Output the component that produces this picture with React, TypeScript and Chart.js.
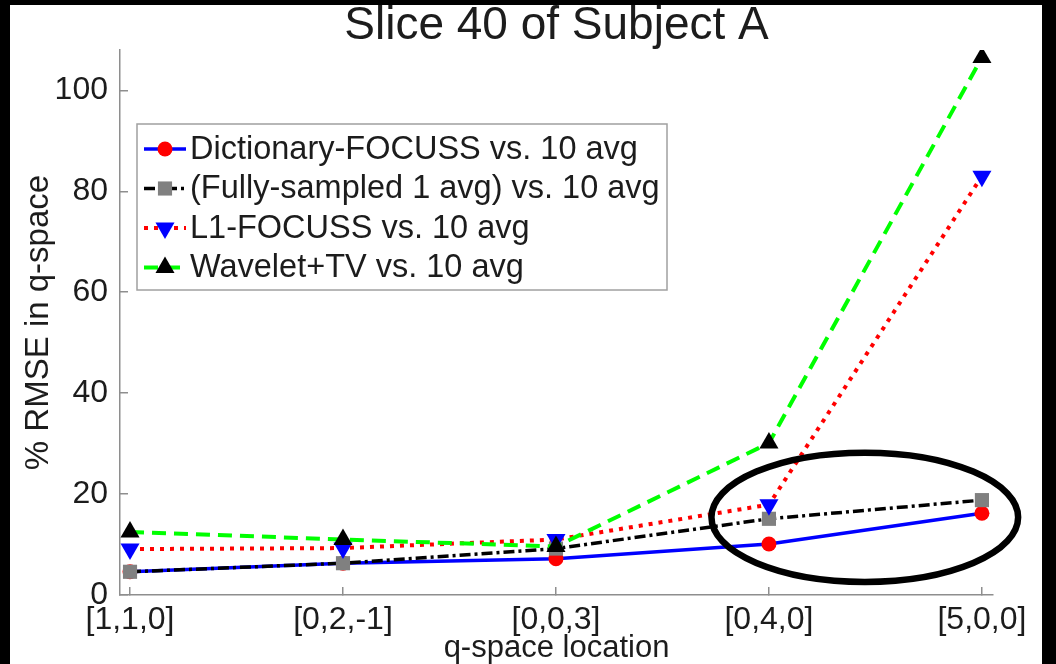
import React, { useEffect, useRef } from "react";
import { Chart, registerables } from "chart.js";

Chart.register(...registerables);

// ---- data ----
const categories = ["[1,1,0]", "[0,2,-1]", "[0,0,3]", "[0,4,0]", "[5,0,0]"];
const dictFocuss = [4.6, 6.3, 7.2, 10.1, 16.2];
const fullySampled = [4.6, 6.3, 9.2, 15.1, 18.8];
const l1Focuss = [9.1, 9.3, 11.0, 17.9, 83.0];
const waveletTV = [12.5, 11.0, 9.6, 30.1, 106.5];
const seriesLabels = [
  "Dictionary-FOCUSS vs. 10 avg",
  "(Fully-sampled 1 avg) vs. 10 avg",
  "L1-FOCUSS vs. 10 avg",
  "Wavelet+TV vs. 10 avg",
];
const yTicks = [0, 20, 40, 60, 80, 100];
const titleText = "Slice 40 of Subject A";
const xTitle = "q-space location";
const yTitle = "% RMSE in q-space";
// highlight ellipse, in data units (x = category position, y = value)
const ellipseCenter = [4.45, 15.4];
const ellipseRadii = [0.72, 12.8];

const FONT = '"Liberation Sans", Arial, Helvetica, sans-serif';
const TEXT = "#1c1c1c";
const AXIS = "#8e8e8e";

const toPts = (arr: number[]) => arr.map((v, i) => ({ x: i + 1, y: v }));

function drawMarker(ctx: CanvasRenderingContext2D, style: string, rot: number, r: number, x: number, y: number) {
  ctx.beginPath();
  if (style === "circle") {
    ctx.arc(x, y, r, 0, Math.PI * 2);
  } else if (style === "rect") {
    const s = r * Math.SQRT1_2;
    ctx.rect(x - s, y - s, 2 * s, 2 * s);
  } else if (style === "triangle") {
    let a = (rot * Math.PI) / 180;
    ctx.moveTo(x + Math.sin(a) * r, y - Math.cos(a) * r);
    a += (2 * Math.PI) / 3;
    ctx.lineTo(x + Math.sin(a) * r, y - Math.cos(a) * r);
    a += (2 * Math.PI) / 3;
    ctx.lineTo(x + Math.sin(a) * r, y - Math.cos(a) * r);
    ctx.closePath();
  }
  ctx.fill();
}

const ellipsePlugin = {
  id: "ellipseNote",
  afterDatasetsDraw(chart: any) {
    const { ctx, scales } = chart;
    const cx = scales.x.getPixelForValue(ellipseCenter[0]);
    const cy = scales.y.getPixelForValue(ellipseCenter[1]);
    const rx = Math.abs(scales.x.getPixelForValue(ellipseCenter[0] + ellipseRadii[0]) - cx);
    const ry = Math.abs(scales.y.getPixelForValue(ellipseCenter[1] + ellipseRadii[1]) - cy);
    ctx.save();
    ctx.strokeStyle = "#000";
    ctx.lineWidth = 6.5;
    ctx.beginPath();
    ctx.ellipse(cx, cy, rx, ry, 0, 0, Math.PI * 2);
    ctx.stroke();
    ctx.restore();
  },
};

const boxLegendPlugin = {
  id: "boxLegend",
  afterDraw(chart: any, _args: any, o: any) {
    const { ctx } = chart;
    ctx.save();
    ctx.fillStyle = "#fff";
    ctx.fillRect(o.left, o.top, o.width, o.height);
    ctx.strokeStyle = "#a0a0a0";
    ctx.lineWidth = 1.5;
    ctx.strokeRect(o.left, o.top, o.width, o.height);
    chart.data.datasets.forEach((ds: any, i: number) => {
      const y = o.top + o.firstRow + i * o.rowH;
      const x1 = o.left + o.lineStart;
      const x2 = x1 + o.lineLen;
      ctx.strokeStyle = ds.borderColor;
      ctx.lineWidth = ds.borderWidth;
      ctx.setLineDash(ds.borderDash || []);
      ctx.beginPath();
      ctx.moveTo(x1, y);
      ctx.lineTo(x2, y);
      ctx.stroke();
      ctx.setLineDash([]);
      ctx.fillStyle = ds.pointBackgroundColor;
      drawMarker(ctx, ds.pointStyle, ds.pointRotation || 0, ds.pointRadius, (x1 + x2) / 2, y);
      ctx.fillStyle = TEXT;
      ctx.font = `32.5px ${FONT}`;
      ctx.textBaseline = "middle";
      ctx.textAlign = "left";
      ctx.fillText(ds.label, o.left + o.textStart, y + 1);
    });
    ctx.restore();
  },
};

export default function App() {
  const ref = useRef<HTMLCanvasElement>(null);

  useEffect(() => {
    const canvas = ref.current!;
    const chart = new Chart(canvas, {
      type: "line",
      data: {
        datasets: [
          {
            label: seriesLabels[0],
            data: toPts(dictFocuss),
            borderColor: "#0000ff",
            borderWidth: 3.5,
            pointStyle: "circle",
            pointRadius: 7.5,
            pointBackgroundColor: "#ff0000",
            pointBorderColor: "#ff0000",
            pointBorderWidth: 0,
            order: 4,
          },
          {
            label: seriesLabels[1],
            data: toPts(fullySampled),
            borderColor: "#000000",
            borderWidth: 3.5,
            borderDash: [11, 4, 3, 4],
            pointStyle: "rect",
            pointRadius: 10,
            pointBackgroundColor: "#808080",
            pointBorderColor: "#808080",
            pointBorderWidth: 0,
            order: 3,
          },
          {
            label: seriesLabels[2],
            data: toPts(l1Focuss),
            borderColor: "#ff0000",
            borderWidth: 4,
            borderDash: [4, 6],
            pointStyle: "triangle",
            pointRotation: 180,
            pointRadius: 11,
            pointBackgroundColor: "#0000ff",
            pointBorderColor: "#0000ff",
            pointBorderWidth: 0,
            order: 2,
          },
          {
            label: seriesLabels[3],
            data: toPts(waveletTV),
            borderColor: "#00ff00",
            borderWidth: 4,
            borderDash: [14, 8],
            pointStyle: "triangle",
            pointRadius: 11,
            pointBackgroundColor: "#000000",
            pointBorderColor: "#000000",
            pointBorderWidth: 0,
            order: 1,
          },
        ] as any,
      },
      options: {
        responsive: false,
        animation: false,
        devicePixelRatio: 1,
        layout: { padding: { left: 0, right: 49, top: 0, bottom: 0 } },
        plugins: {
          legend: { display: false },
          tooltip: { enabled: false },
          title: {
            display: true,
            text: titleText,
            fullSize: false,
            color: TEXT,
            font: { family: FONT, size: 46, weight: "normal", lineHeight: 1 },
            padding: { top: -2, bottom: 1 },
          },
          boxLegend: {
            left: 127,
            top: 119,
            width: 530,
            height: 166,
            firstRow: 25,
            rowH: 39.5,
            lineStart: 7,
            lineLen: 42,
            textStart: 53,
          },
        } as any,
        scales: {
          x: {
            type: "linear",
            min: 0.953,
            max: 5.052,
            afterBuildTicks: (s: any) => {
              s.ticks = categories.map((_, i) => ({ value: i + 1 }));
            },
            afterFit: (s: any) => {
              s.height = 69;
            },
            ticks: {
              callback: (v: any) => categories[Math.round(Number(v)) - 1] ?? "",
              color: TEXT,
              font: { family: FONT, size: 32 },
              padding: 14,
              maxRotation: 0,
              autoSkip: false,
            },
            grid: { drawOnChartArea: false, drawTicks: true, tickLength: -8, color: AXIS, lineWidth: 1.5 },
            border: { display: true, color: AXIS, width: 1.5 },
            title: {
              display: true,
              text: xTitle,
              color: TEXT,
              font: { family: FONT, size: 31, lineHeight: 1 },
              padding: { top: 0, bottom: 0 },
            },
          },
          y: {
            type: "linear",
            min: 0,
            max: 108,
            afterBuildTicks: (s: any) => {
              s.ticks = yTicks.map((v) => ({ value: v }));
            },
            afterFit: (s: any) => {
              s.width = 110;
            },
            ticks: {
              color: TEXT,
              font: { family: FONT, size: 32 },
              padding: 20,
            },
            grid: { drawOnChartArea: false, drawTicks: true, tickLength: -8, color: AXIS, lineWidth: 1.5 },
            border: { display: true, color: AXIS, width: 1.5 },
            title: {
              display: true,
              text: yTitle,
              color: TEXT,
              font: { family: FONT, size: 33, lineHeight: 1 },
              padding: { top: 12, bottom: 0 },
            },
          },
        },
      },
      plugins: [ellipsePlugin, boxLegendPlugin],
    });
    return () => chart.destroy();
  }, []);

  return (
    <div style={{ position: "fixed", left: 0, top: 0, width: 1056, height: 664, background: "#000" }}>
      <div style={{ position: "absolute", left: 10, top: 5, width: 1032, height: 659, background: "#fff" }}>
        <canvas ref={ref} width={1032} height={659} style={{ display: "block", width: 1032, height: 659 }} />
      </div>
    </div>
  );
}
